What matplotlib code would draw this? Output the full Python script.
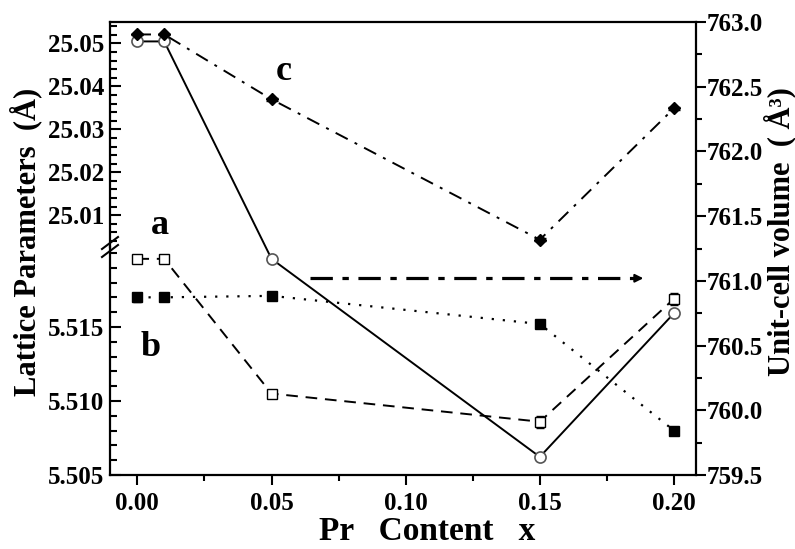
import matplotlib
matplotlib.use("Agg")
import matplotlib.pyplot as plt
from matplotlib.lines import Line2D
from matplotlib.ticker import MultipleLocator, FormatStrFormatter

plt.rcParams['font.family'] = ['Liberation Serif', 'DejaVu Serif']
plt.rcParams['font.weight'] = 'bold'

# Pr content
x = [0.00, 0.01, 0.05, 0.15, 0.20]

# lattice parameter c (upper left axis)
c = [25.0521, 25.0521, 25.0370, 25.0043, 25.0349]
c_err = [0.0002, 0.0002, 0.0004, 0.0003, 0.0004]

# lattice parameters a and b (lower left axis)
a = [5.5196, 5.5196, 5.5105, 5.5086, 5.5169]
a_err = [0.0001, 0.0001, 0.0002, 0.0004, 0.0004]
b = [5.5170, 5.5170, 5.5171, 5.5152, 5.5080]
b_err = [0.0003, 0.0002, 0.0002, 0.0001, 0.0002]

# unit-cell volume (right axis)
vol = [762.85, 762.85, 761.17, 759.64, 760.75]

# tick labels of the left axis parts
c_ticks = [25.01, 25.02, 25.03, 25.04, 25.05]
ab_ticks = [5.505, 5.510, 5.515]

# arrow pointing to the volume axis
arrow_x = (0.0644, 0.1876)
arrow_y = 761.02

fig = plt.figure(figsize=(7.95, 5.49), dpi=100)
L, R = 110 / 795, 696 / 795
B, T, M = 1 - 475 / 549, 1 - 22 / 549, 1 - 247 / 549

# volume axis carries the x axis and the frame
axv = fig.add_axes([L, B, R - L, T - B])
axv.set_xlim(-0.0102, 0.2082)
axv.set_ylim(759.5, 763.0)
axv.spines['left'].set_visible(False)
for s in axv.spines.values():
    s.set_linewidth(1.6)
axv.yaxis.tick_right()
axv.yaxis.set_major_locator(MultipleLocator(0.5))
axv.yaxis.set_minor_locator(MultipleLocator(0.25))
axv.yaxis.set_major_formatter(FormatStrFormatter('%.1f'))
axv.xaxis.set_major_locator(MultipleLocator(0.05))
axv.xaxis.set_minor_locator(MultipleLocator(0.025))
axv.xaxis.set_major_formatter(FormatStrFormatter('%.2f'))
axv.tick_params(which='both', direction='out', width=1.5, labelsize=18,
                top=False, left=False)
axv.tick_params(which='major', length=7)
axv.tick_params(which='minor', length=4)
axv.tick_params(axis='y', pad=1)
axv.tick_params(axis='x', pad=5)

axu = fig.add_axes([L, M, R - L, T - M], sharex=axv)
axl = fig.add_axes([L, B, R - L, M - B], sharex=axv)
for ax in (axu, axl):
    ax.patch.set_visible(False)
    for k, s in ax.spines.items():
        s.set_visible(k == 'left')
        s.set_linewidth(1.6)
    ax.tick_params(axis='x', which='both', bottom=False, labelbottom=False)
    ax.tick_params(axis='y', which='both', direction='in', width=1.5,
                   labelsize=18, pad=4)
    ax.tick_params(axis='y', which='major', length=8)
    ax.tick_params(axis='y', which='minor', length=5)

axu.set_ylim(25.0026, 25.055)
axu.set_yticks(c_ticks)
axu.yaxis.set_minor_locator(MultipleLocator(0.002))
axu.yaxis.set_major_formatter(FormatStrFormatter('%.2f'))

axl.set_ylim(5.505, 5.5204)
axl.set_yticks(ab_ticks)
axl.yaxis.set_minor_locator(MultipleLocator(0.001))
axl.yaxis.set_major_formatter(FormatStrFormatter('%.3f'))

# data
axv.plot(x, vol, '-', color='black', lw=1.4, marker='o', ms=8,
         mfc='white', mec='#555555', mew=1.2, zorder=3)
axu.errorbar(x, c, yerr=c_err, fmt='D', ls=(0, (7, 4, 1.5, 4)), color='black',
             lw=1.4, ms=6.5, capsize=4, elinewidth=1.2)
axl.errorbar(x, a, yerr=a_err, fmt='s', ls=(0, (6, 4)), color='black',
             lw=1.4, ms=6.5, mfc='white', capsize=3, elinewidth=1.0)
axl.errorbar(x, b, yerr=b_err, fmt='s', ls=(0, (1, 4)), color='black',
             lw=1.6, ms=6.5, capsize=3, elinewidth=1.0)

axv.plot(arrow_x, [arrow_y, arrow_y], color='black', lw=2.3,
         ls=(0, (7, 3, 2, 3)))
axv.annotate('', xy=(arrow_x[1] + 0.002, arrow_y), xytext=(arrow_x[1] - 0.004, arrow_y),
             arrowprops=dict(arrowstyle='-|>', color='black', lw=1.5,
                             mutation_scale=12))

# series letters
axu.text(0.0545, 25.0435, 'c', fontsize=26, fontweight='bold', ha='center', va='center')
axu.text(0.0085, 25.0075, 'a', fontsize=26, fontweight='bold', ha='center', va='center')
axl.text(0.005, 5.5136, 'b', fontsize=26, fontweight='bold', ha='center', va='center')

# break marks on the left spine
for dy in (-4, 4):
    yc = 247 + dy
    fig.add_artist(Line2D([102 / 795, 118 / 795],
                          [1 - (yc + 6) / 549, 1 - (yc - 6) / 549],
                          color='black', lw=1.5))

fig.text(26 / 795, 1 - 242 / 549, 'Lattice Parameters  (Å)', rotation=90,
         ha='center', va='center', fontsize=22, fontweight='bold')
fig.text(780 / 795, 1 - 232 / 549, 'Unit-cell volume  ( Å³)', rotation=90,
         ha='center', va='center', fontsize=22, fontweight='bold')
fig.text(427 / 795, 1 - 531 / 549, 'Pr   Content   x', ha='center',
         va='center', fontsize=24, fontweight='bold')

fig.savefig('out.png', dpi=100)
